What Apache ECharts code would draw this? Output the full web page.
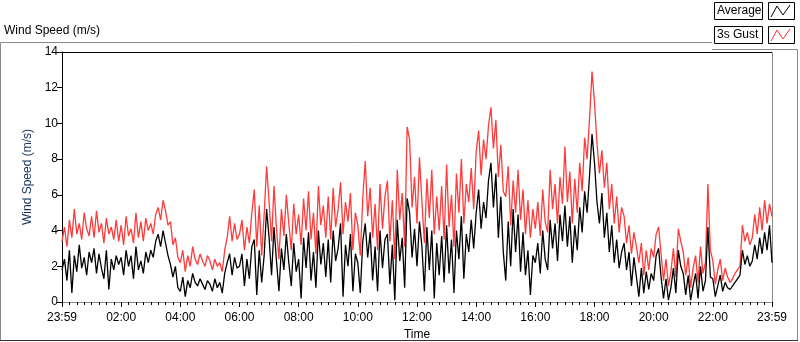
<!DOCTYPE html>
<html>
<head>
<meta charset="utf-8">
<script src="https://cdn.jsdelivr.net/npm/echarts@6/dist/echarts.min.js"></script>
<style>
  html, body { margin: 0; padding: 0; background: #fff; }
  #chart { width: 800px; height: 342px; }
</style>
</head>
<body>
<div id="chart"></div>
<script>
// one reading every 5 minutes, 23:59 -> 23:59 (12 per hour)
var stepMinutes = 5;
var tickHours = ['23:59', '02:00', '04:00', '06:00', '08:00', '10:00', '12:00', '14:00', '16:00', '18:00', '20:00', '22:00', '23:59'];

var gust = [
  3.4, 4.2, 3.1, 4.6, 3.6, 5.2, 3.8, 4.4, 3.5, 5.0, 4.1, 3.7,
  4.8, 3.6, 5.1, 3.9, 4.4, 3.3, 4.7, 3.8, 4.2, 3.5, 4.6, 3.4,
  4.3, 3.2, 4.8, 3.7, 4.1, 3.3, 5.0, 3.6, 4.5, 3.4, 4.7, 4.0,
  4.4, 3.8, 4.9, 5.3, 4.6, 5.7, 5.1, 4.3, 4.5, 3.2, 3.6, 2.5,
  2.2, 2.9, 1.7, 2.6, 2.0, 3.1, 2.4, 2.1, 2.7, 2.3, 2.0, 2.6,
  2.3, 1.8, 2.4, 2.0, 2.2, 1.7, 2.9, 3.6, 4.8, 3.4, 4.4, 3.5,
  3.8, 4.6, 2.9, 4.2, 3.3, 5.0, 6.3, 3.1, 5.4, 2.6, 4.9, 7.6,
  5.6, 3.4, 6.5, 4.1, 2.4, 5.2, 3.7, 6.0, 4.4, 2.9, 5.5, 3.8,
  4.9, 3.2, 5.8, 4.0, 6.2, 3.5, 5.0, 2.7, 6.5, 4.3, 5.4, 3.6,
  5.9, 3.5, 6.4, 4.2, 5.2, 6.7, 3.8, 5.6, 4.5, 6.1, 2.9, 5.0,
  4.3, 2.6, 5.8, 7.9, 4.8, 6.4, 3.6, 5.5, 2.9, 6.6, 4.1, 5.9,
  6.8, 3.4, 5.7, 2.4, 7.4, 4.6, 6.1, 3.1, 9.8, 9.1, 5.3, 7.0,
  4.4, 8.1, 5.6, 3.3, 6.9, 4.7, 7.4, 3.8, 5.9, 4.0, 6.5, 3.5,
  7.7, 4.2, 6.0, 3.1, 7.2, 5.0, 8.0, 4.4, 6.6, 5.6, 7.5, 5.2,
  8.4, 9.6, 7.1, 9.1, 8.0, 9.9, 10.9, 8.6, 10.2, 7.0, 8.8, 6.2,
  5.9, 7.6, 4.3, 6.8, 5.0, 7.4, 4.6, 6.3, 3.8, 5.7, 3.6, 5.2,
  4.1, 5.6, 3.7, 6.3, 4.5, 3.9, 7.4, 5.2, 6.6, 4.4, 7.0, 5.5,
  8.7, 5.6, 7.3, 4.4, 6.9, 5.0, 7.8, 6.2, 9.2, 8.0, 10.3, 12.9,
  11.2, 8.9, 7.2, 8.5, 6.4, 7.8, 5.2, 6.6, 4.4, 5.9, 3.9, 5.3,
  4.8, 3.3, 4.3, 2.7, 3.9, 3.1, 2.2, 3.3, 1.5, 2.9, 1.8, 3.0,
  2.5, 3.8, 4.2, 2.7, 1.2, 2.4, 0.9, 1.7, 3.0, 1.4, 4.1, 3.4,
  2.8, 1.5, 2.5, 0.8, 1.9, 2.6, 1.1, 3.1, 1.6, 2.2, 6.6, 2.9,
  2.3, 1.0, 1.8, 2.4, 1.2, 1.9, 1.4, 1.1, 1.3, 1.6, 1.8, 2.0,
  4.3, 3.4, 3.9, 3.2, 3.6, 4.9, 3.8, 5.3, 4.0, 5.7, 4.4, 5.5,
  4.8
];

var average = [
  1.8, 2.4, 1.2, 2.9, 0.5, 2.6, 1.7, 3.2, 1.9, 2.5, 1.5, 2.8,
  2.2, 3.0, 1.6, 2.7, 1.9, 1.3, 2.9, 0.7, 2.4, 1.8, 2.6, 2.1,
  2.5, 1.5, 2.9, 2.0, 2.6, 1.3, 3.1, 1.8, 2.3, 1.6, 2.8, 2.2,
  2.9, 2.5, 3.4, 3.8, 3.1, 4.0, 3.3, 2.6, 2.1, 1.4, 2.0, 0.8,
  0.6, 1.4, 0.3, 1.2, 0.8, 1.6, 1.1, 0.9, 1.3, 1.0, 0.7, 1.2,
  1.0, 0.6, 1.3, 0.8, 1.1, 0.5, 1.6, 2.2, 2.7, 1.5, 2.5, 1.9,
  2.0, 2.7, 0.9, 2.4, 1.3, 3.1, 3.5, 0.4, 2.9, 1.1, 2.6, 5.2,
  3.6, 1.5, 4.2, 2.3, 0.6, 3.0, 1.8, 3.8, 2.2, 0.9, 3.3, 1.7,
  2.4, 0.2, 3.6, 1.9, 3.9, 1.2, 2.8, 0.8, 4.0, 2.1, 3.3, 1.4,
  3.5, 1.1, 4.0, 2.3, 3.0, 4.4, 0.3, 3.2, 2.0, 3.8, 0.6, 2.7,
  2.2, 0.5, 3.4, 4.4, 2.5, 3.9, 1.2, 3.1, 0.6, 4.0, 1.9, 3.5,
  3.8, 1.0, 3.2, 0.1, 4.6, 2.3, 3.6, 0.8, 5.8, 5.0, 2.5, 4.1,
  2.0, 4.5, 3.1, 0.6, 4.2, 1.8, 4.0, 0.2, 3.3, 1.5, 3.7, 1.1,
  4.3, 1.6, 3.5, 0.5, 4.0, 2.4, 4.8, 1.3, 3.8, 2.8, 4.6, 3.0,
  5.0, 6.3, 4.1, 5.6, 4.7, 6.8, 7.8, 5.3, 7.2, 3.6, 5.9, 2.8,
  1.2, 4.5, 2.0, 5.2, 2.8, 4.9, 1.7, 3.9, 1.5, 2.9, 0.4, 2.6,
  2.2, 3.3, 1.6, 4.0, 2.4, 1.8, 4.6, 3.0, 4.4, 2.3, 4.9, 3.4,
  5.4, 3.1, 4.8, 2.2, 4.3, 2.9, 5.3, 3.9, 6.2, 5.0, 7.1, 9.4,
  7.8, 5.6, 4.4, 6.1, 3.6, 5.0, 2.8, 4.3, 2.2, 3.5, 1.9, 2.8,
  3.3, 1.8, 2.8, 0.9, 2.5, 1.4, 0.3, 1.9, 0.5, 1.7, 0.7, 1.6,
  1.2, 2.6, 3.0, 1.4, 0.2, 1.3, 0.1, 0.8, 1.9, 0.5, 2.9, 2.0,
  1.6, 0.4, 1.5, 0.1, 0.9, 1.6, 0.2, 2.0, 0.6, 1.2, 4.2, 1.4,
  1.3, 0.3, 0.9, 1.5, 0.6, 1.1, 0.8, 0.7, 0.9, 1.1, 1.3, 1.5,
  2.9, 2.1, 2.6, 2.0, 2.3, 3.2, 2.4, 3.6, 2.7, 3.9, 2.9, 4.3,
  2.2
];

function toPairs(values) {
  return values.map(function (v, i) { return [i * stepMinutes, v]; });
}

var font = 'Liberation Sans';
var myChart = echarts.init(document.getElementById('chart'), null, { renderer: 'canvas' });

function legendItem(y, label, color) {
  return [
    { type: 'rect', shape: { x: 714.5, y: y + 0.5, width: 48, height: 17 },
      style: { fill: '#fff', stroke: '#000', lineWidth: 1 } },
    { type: 'text', x: 717, y: y + 9, style: { text: label, font: '12px ' + font, fill: '#000', verticalAlign: 'middle' } },
    { type: 'rect', shape: { x: 768.5, y: y + 0.5, width: 26, height: 17 },
      style: { fill: '#fff', stroke: '#000', lineWidth: 1 } },
    { type: 'polyline', shape: { points: [[771, y + 15], [777, y + 4], [783, y + 13], [790, y + 3]] },
      style: { stroke: color, lineWidth: 1, fill: null } }
  ];
}

var option = {
  animation: false,
  backgroundColor: '#fff',
  textStyle: { fontFamily: font },
  grid: { left: 62, right: 28, top: 52, bottom: 40, containLabel: false, outerBoundsMode: 'none' },
  xAxis: {
    type: 'value',
    min: 0,
    max: 1440,
    interval: 120,
    name: 'Time',
    nameLocation: 'middle',
    nameGap: 27,
    nameTextStyle: { color: '#000', fontSize: 12, fontFamily: font },
    axisLine: { lineStyle: { color: '#888', width: 1 } },
    axisTick: { show: true, length: 5, lineStyle: { color: '#000' } },
    minorTick: { show: true, splitNumber: 8, length: 3, lineStyle: { color: '#000' } },
    axisLabel: {
      color: '#000', fontSize: 12, fontFamily: font, margin: 10,
      formatter: function (v) { return tickHours[Math.round(v / 120)]; }
    },
    splitLine: { show: false }
  },
  yAxis: {
    type: 'value',
    min: 0,
    max: 14,
    interval: 2,
    name: 'Wind Speed (m/s)',
    nameLocation: 'middle',
    nameGap: 26,
    nameRotate: 90,
    nameTextStyle: { color: '#1c3560', fontSize: 12, fontFamily: font },
    axisLine: { show: true, lineStyle: { color: '#000', width: 1 } },
    axisTick: { show: true, length: 5, lineStyle: { color: '#000' } },
    axisLabel: { color: '#000', fontSize: 12, fontFamily: font, margin: 4 },
    splitLine: { show: false }
  },
  graphic: [
    { type: 'text', left: 4, top: 25, style: { text: 'Wind Speed (m/s)', font: '12px ' + font, fill: '#000' } },
    // outer panel
    { type: 'polyline', shape: { points: [[0.5, 341], [0.5, 42.5], [712, 42.5]] }, style: { stroke: '#8a8a8a', lineWidth: 1, fill: null } },
    { type: 'polyline', shape: { points: [[712, 49.5], [797.5, 49.5], [797.5, 341]] }, style: { stroke: '#8a8a8a', lineWidth: 1, fill: null } },
    { type: 'line', shape: { x1: 0, y1: 340.5, x2: 798, y2: 340.5 }, style: { stroke: '#333', lineWidth: 1 } },
    // plot frame: dark top, grey right
    { type: 'line', shape: { x1: 62, y1: 52.5, x2: 772, y2: 52.5 }, style: { stroke: '#000', lineWidth: 1 } },
    { type: 'line', shape: { x1: 772.5, y1: 52, x2: 772.5, y2: 302 }, style: { stroke: '#888', lineWidth: 1 } }
  ].concat(legendItem(2, 'Average', '#000'), legendItem(26, '3s Gust', '#ff3030')),
  series: [
    {
      name: '3s Gust',
      type: 'line',
      data: toPairs(gust),
      showSymbol: false,
      lineStyle: { color: '#ff3a3a', width: 1.3 },
      z: 2
    },
    {
      name: 'Average',
      type: 'line',
      data: toPairs(average),
      showSymbol: false,
      lineStyle: { color: '#000', width: 1.3 },
      z: 3
    }
  ]
};
myChart.setOption(option);
</script>
</body>
</html>
